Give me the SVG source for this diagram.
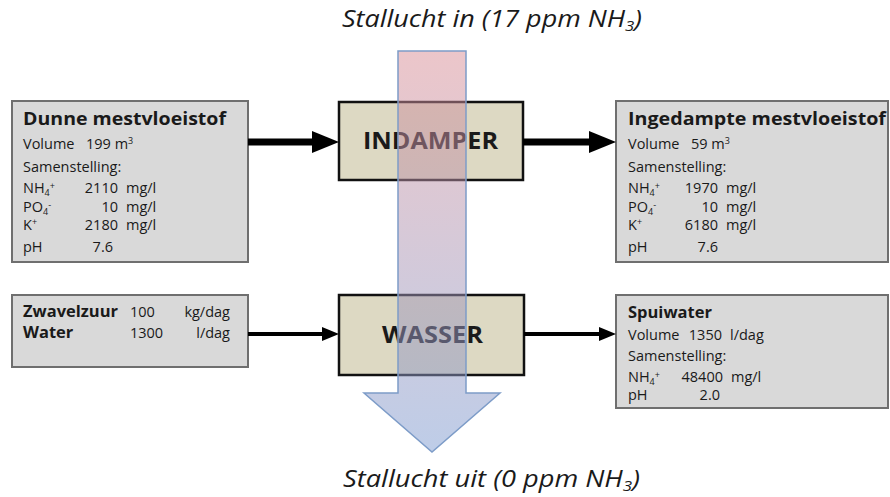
<svg xmlns="http://www.w3.org/2000/svg" width="890" height="497" viewBox="0 0 890 497">
<style>
text{font-family:"Open Sans","Noto Sans","Liberation Sans",sans-serif;fill:#1a1a1a}
.box{fill:#d9d9d9;stroke:#6f6f6f;stroke-width:2}
.proc{fill:#ddd9c3;stroke:#111;stroke-width:2.5}
.h{font-weight:bold;font-size:18.5px}
.b{font-size:14.5px}
.bb{font-weight:bold;font-size:16.5px}
.p{font-weight:bold;font-size:24px}
.t{font-style:italic;font-size:24px}
.s{font-size:9px}
.e{text-anchor:end}
.c{text-anchor:middle}
</style>
<defs>
<linearGradient id="g" x1="0" y1="0" x2="0" y2="1">
<stop offset="0" stop-color="#d98d95"/>
<stop offset="1" stop-color="#7d9bd1"/>
</linearGradient>
<marker id="big" markerUnits="userSpaceOnUse" markerWidth="27" markerHeight="22" refX="17" refY="11" orient="auto"><path d="M0,0 L27,11 L0,22 z" fill="#000"/></marker>
<marker id="small" markerUnits="userSpaceOnUse" markerWidth="17" markerHeight="14" refX="11" refY="7" orient="auto"><path d="M0,0 L17,7 L0,14 z" fill="#000"/></marker>
</defs>
<rect width="890" height="497" fill="#fff"/>

<g id="dunne">
<rect class="box" x="12" y="101" width="236" height="161"/>
<text class="h" x="23" y="125" textLength="203" lengthAdjust="spacingAndGlyphs">Dunne mestvloeistof</text>
<text class="b" x="23" y="149">Volume</text><text class="b" x="86" y="149">199 m<tspan class="s" dy="-5">3</tspan></text>
<text class="b" x="23" y="172">Samenstelling:</text>
<text class="b" x="23" y="193">NH<tspan class="s" dy="3">4</tspan><tspan class="s" dy="-7">+</tspan></text><text class="b e" x="118" y="193">2110</text><text class="b" x="126" y="193">mg/l</text>
<text class="b" x="23" y="212">PO<tspan class="s" dy="3">4</tspan><tspan class="s" dy="-7">-</tspan></text><text class="b e" x="118" y="212">10</text><text class="b" x="126" y="212">mg/l</text>
<text class="b" x="23" y="230">K<tspan class="s" dy="-5">+</tspan></text><text class="b e" x="118" y="230">2180</text><text class="b" x="126" y="230">mg/l</text>
<text class="b" x="23" y="252">pH</text><text class="b e" x="113" y="252">7.6</text>
</g>

<g id="ingedampte">
<rect class="box" x="616" y="101" width="272" height="161"/>
<text class="h" x="628" y="125" textLength="258" lengthAdjust="spacingAndGlyphs">Ingedampte mestvloeistof</text>
<text class="b" x="628" y="149">Volume</text><text class="b" x="691" y="149">59 m<tspan class="s" dy="-5">3</tspan></text>
<text class="b" x="628" y="172">Samenstelling:</text>
<text class="b" x="628" y="193">NH<tspan class="s" dy="3">4</tspan><tspan class="s" dy="-7">+</tspan></text><text class="b e" x="718" y="193">1970</text><text class="b" x="726" y="193">mg/l</text>
<text class="b" x="628" y="212">PO<tspan class="s" dy="3">4</tspan><tspan class="s" dy="-7">-</tspan></text><text class="b e" x="718" y="212">10</text><text class="b" x="726" y="212">mg/l</text>
<text class="b" x="628" y="230">K<tspan class="s" dy="-5">+</tspan></text><text class="b e" x="718" y="230">6180</text><text class="b" x="726" y="230">mg/l</text>
<text class="b" x="628" y="252">pH</text><text class="b e" x="718" y="252">7.6</text>
</g>

<g id="zwavelzuur">
<rect class="box" x="12" y="295" width="236" height="72"/>
<text class="bb" x="23" y="317">Zwavelzuur</text><text class="b" x="130" y="317">100</text><text class="b e" x="230" y="317">kg/dag</text>
<text class="bb" x="23" y="338">Water</text><text class="b" x="130" y="338">1300</text><text class="b e" x="230" y="338">l/dag</text>
</g>

<g id="spuiwater">
<rect class="box" x="616" y="295" width="272" height="113"/>
<text class="bb" x="628" y="318">Spuiwater</text>
<text class="b" x="628" y="340">Volume</text><text class="b e" x="722" y="340">1350</text><text class="b" x="730" y="340">l/dag</text>
<text class="b" x="628" y="361">Samenstelling:</text>
<text class="b" x="628" y="382">NH<tspan class="s" dy="3">4</tspan><tspan class="s" dy="-7">+</tspan></text><text class="b e" x="723" y="382">48400</text><text class="b" x="731" y="382">mg/l</text>
<text class="b" x="628" y="400">pH</text><text class="b e" x="720" y="400">2.0</text>
</g>

<g id="indamper">
<rect class="proc" x="339" y="102" width="184" height="78"/>
<text class="p" x="363" y="149" textLength="135" lengthAdjust="spacingAndGlyphs">INDAMPER</text>
</g>

<g id="wasser">
<rect class="proc" x="339" y="295" width="185" height="80"/>
<text class="p" x="382" y="343" textLength="101" lengthAdjust="spacingAndGlyphs">WASSER</text>
</g>

<g id="connectors" stroke="#000" fill="none">
<line x1="248" y1="142" x2="329" y2="142" stroke-width="7" marker-end="url(#big)"/>
<line x1="523" y1="142" x2="606" y2="142" stroke-width="7" marker-end="url(#big)"/>
<line x1="248" y1="334" x2="333" y2="334" stroke-width="4" marker-end="url(#small)"/>
<line x1="524" y1="334" x2="610" y2="334" stroke-width="4" marker-end="url(#small)"/>
</g>

<g id="stallucht">
<polygon points="398,51 466,51 466,393 500,393 432,452 364,393 398,393" fill="url(#g)" fill-opacity="0.5" stroke="#7d9cc8" stroke-width="1.5"/>
</g>

<g id="labels">
<text class="t" x="342" y="27" textLength="300" lengthAdjust="spacingAndGlyphs">Stallucht in (17 ppm NH<tspan font-size="15" dy="4">3</tspan><tspan dy="-4">)</tspan></text>
<text class="t" x="343" y="487" textLength="297" lengthAdjust="spacingAndGlyphs">Stallucht uit (0 ppm NH<tspan font-size="15" dy="4">3</tspan><tspan dy="-4">)</tspan></text>
</g>
</svg>
